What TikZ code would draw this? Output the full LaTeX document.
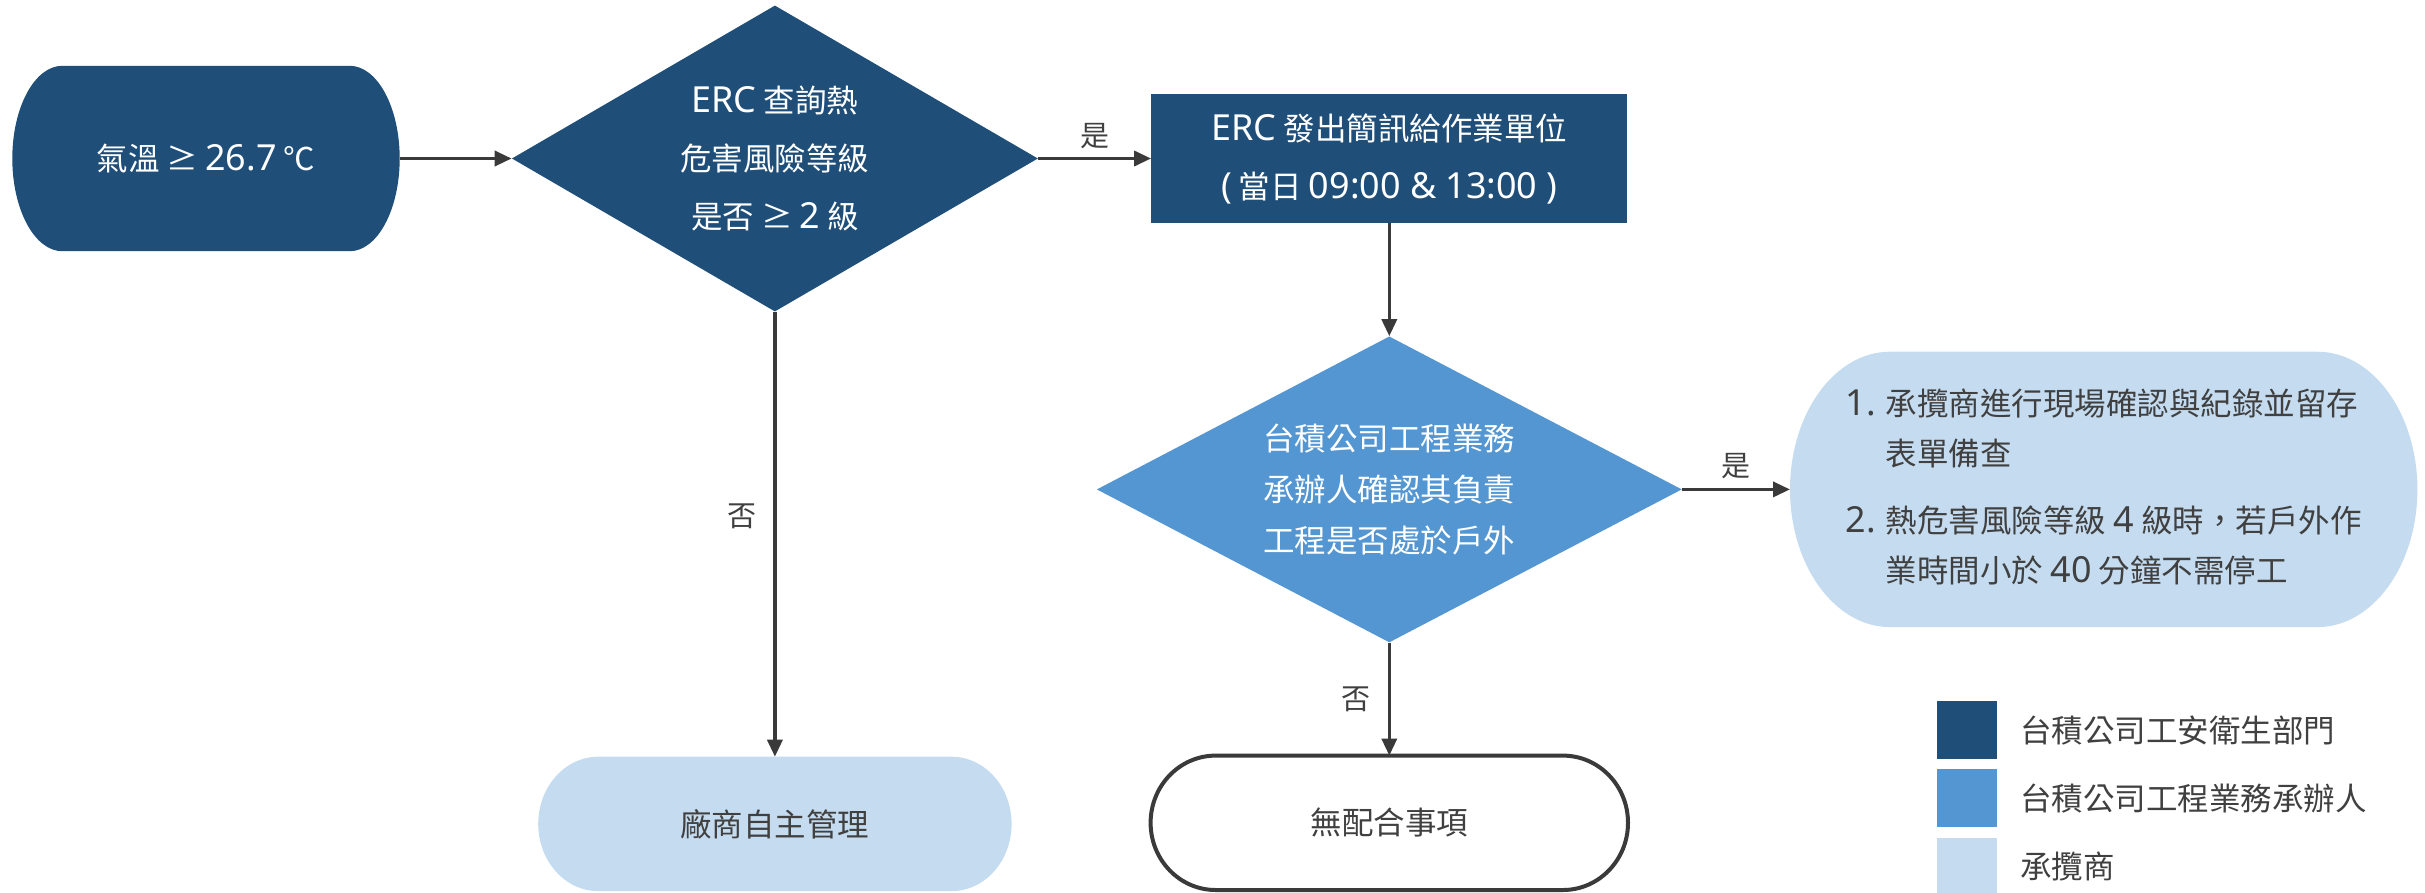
\documentclass[tikz,border=0pt]{standalone}
\usepackage{fontspec}
\setmainfont{Noto Sans CJK TC}
\newfontfamily\latinfont{Noto Sans}[Scale=1.14]
\newcommand{\eng}[1]{{\latinfont #1}}
\usepackage{tikz}
\usetikzlibrary{arrows.meta,positioning,shapes.geometric,backgrounds,calc}
\definecolor{safeblue}{RGB}{31,78,121}
\definecolor{engblue}{RGB}{84,150,209}
\definecolor{subblue}{RGB}{197,220,240}
\definecolor{inkgray}{RGB}{64,64,64}
\definecolor{linegray}{RGB}{58,58,58}

% bulged terminal shape behind a node: [style]{node}{bulge}
\newcommand{\drawcapsule}[3][]{%
  \path[#1] let \p1=(#2.north west), \p2=(#2.south east), \n1={(\y1-\y2)/2} in
    ({\x1+#3},\y1) -- ({\x2-#3},\y1)
    arc[start angle=90, end angle=-90, x radius=#3, y radius=\n1]
    -- ({\x1+#3},\y2)
    arc[start angle=270, end angle=90, x radius=#3, y radius=\n1] -- cycle;}

\begin{document}
\begin{tikzpicture}[
  x=1pt, y=1pt,
  node distance=113pt,
  base/.style={font=\fontsize{31.5}{58}\selectfont, align=center, inner sep=0pt},
  term/.style={base, rectangle, minimum height=185pt},
  decision/.style={base, diamond, aspect=1.72, minimum width=526pt,
                   minimum height=306pt, text=white},
  procbox/.style={base, rectangle, fill=safeblue, text=white,
                  minimum width=476pt, minimum height=129pt},
  lbl/.style={font=\fontsize{29}{29}\selectfont, text=inkgray, inner sep=5pt},
  arr/.style={-{Triangle[length=17pt,width=15pt]}, line width=3.5pt, linegray},
  keybox/.style={rectangle, minimum width=60pt, minimum height=58pt, inner sep=0pt},
  keytext/.style={font=\fontsize{31.5}{40}\selectfont, text=inkgray, inner sep=0pt}
]
\useasboundingbox (0,0) rectangle (2425,-892);

\node[term, minimum width=387pt, text=white] (temp) at (206,-158.5)
  {氣溫 ≥ \eng{26.7} ℃};
\node[decision, fill=safeblue, right=112pt of temp] (check)
  {\eng{ERC} 查詢熱\\危害風險等級\\是否 ≥ \eng{2} 級};
\node[procbox, right=113pt of check] (sms)
  {\eng{ERC} 發出簡訊給作業單位\\\eng{(} 當日 \eng{09:00 \& 13:00 )}};
\node[decision, fill=engblue, aspect=1.91, minimum width=585pt,
      font=\fontsize{31.5}{51}\selectfont, below=113pt of sms] (outdoor)
  {台積公司工程業務\\承辦人確認其負責\\工程是否處於戶外};
\node[term, minimum width=627pt, minimum height=275pt, text=inkgray,
      font=\fontsize{31.5}{50}\selectfont, right=108pt of outdoor] (record)
  {\begin{tabular}{@{}l@{\hspace{10pt}}l@{}}
   \eng{1.} & 承攬商進行現場確認與紀錄並留存\\
      & 表單備查\\[17pt]
   \eng{2.} & 熱危害風險等級 \eng{4} 級時，若戶外作\\
      & 業時間小於 \eng{40} 分鐘不需停工
   \end{tabular}};
\node[term, minimum width=473pt, minimum height=134pt, text=inkgray,
      below=445pt of check] (self) {廠商自主管理};
\node[term, minimum width=477pt, minimum height=134pt, text=inkgray,
      below=113pt of outdoor] (none) {無配合事項};

% legend
\node[keybox, fill=safeblue] (keysafe) at (1967,-730) {};
\node[keybox, fill=engblue, below=10pt of keysafe] (keyeng) {};
\node[keybox, fill=subblue, below=10pt of keyeng] (keysub) {};
\node[keytext, right=23pt of keysafe] (txtsafe) {台積公司工安衛生部門};
\node[keytext, right=23pt of keyeng] (txteng) {台積公司工程業務承辦人};
\node[keytext, right=23pt of keysub] (txtsub) {承攬商};

\begin{scope}[on background layer]
  \drawcapsule[fill=safeblue]{temp}{50pt}
  \drawcapsule[fill=subblue]{record}{100pt}
  \drawcapsule[fill=subblue]{self}{60pt}
  \drawcapsule[fill=white, draw=linegray, line width=4pt]{none}{65pt}
\end{scope}

\draw[arr] (temp) -- (check);
\draw[arr] (check) -- node[lbl, above=3pt] {是} (sms);
\draw[arr] (sms) -- (outdoor);
\draw[arr] (outdoor) -- node[lbl, above=4pt] {是} (record);
\draw[arr] (check) -- node[lbl, left=12pt, pos=0.46] {否} (self);
\draw[arr] (outdoor) -- node[lbl, left=12pt] {否} (none);
\end{tikzpicture}
\end{document}
